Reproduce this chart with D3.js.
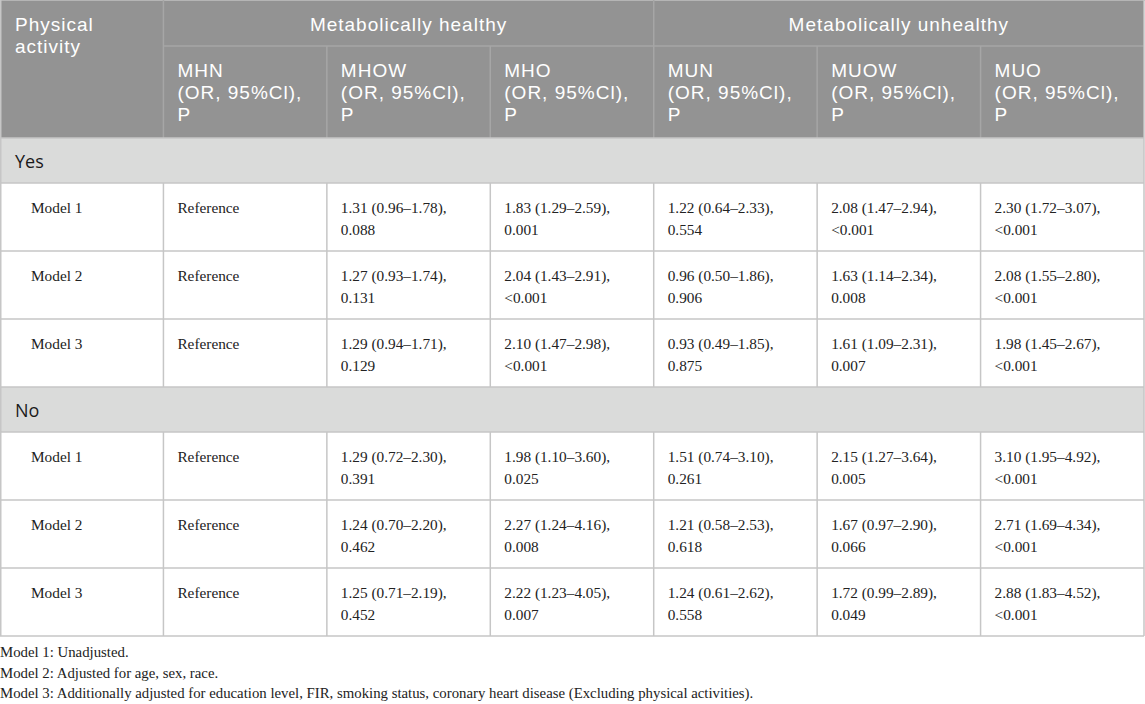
<!DOCTYPE html>
<html>
<head>
<meta charset="utf-8">
<script src="https://cdn.jsdelivr.net/npm/d3@7"></script>
<style>
  html, body { margin: 0; padding: 0; background: #fff; }
  svg { display: block; }
</style>
</head>
<body>
<svg id="chart" width="1145" height="704"></svg>
<script>
// ---- data ----
const firstHeader = ["Physical", "activity"];
const groups = ["Metabolically healthy", "Metabolically unhealthy"];
const columns = ["MHN", "MHOW", "MHO", "MUN", "MUOW", "MUO"];
const subLabel = ["(OR, 95%Cl),", "P"];
const sections = ["Yes", "No"];
const models = ["Model 1", "Model 2", "Model 3"];
const referenceLabel = "Reference";

// OR, CI low, CI high, P for columns MHOW, MHO, MUN, MUOW, MUO
const yesOR  = [[1.31, 1.83, 1.22, 2.08, 2.30], [1.27, 2.04, 0.96, 1.63, 2.08], [1.29, 2.10, 0.93, 1.61, 1.98]];
const yesLo  = [[0.96, 1.29, 0.64, 1.47, 1.72], [0.93, 1.43, 0.50, 1.14, 1.55], [0.94, 1.47, 0.49, 1.09, 1.45]];
const yesHi  = [[1.78, 2.59, 2.33, 2.94, 3.07], [1.74, 2.91, 1.86, 2.34, 2.80], [1.71, 2.98, 1.85, 2.31, 2.67]];
const yesP   = [["0.088", "0.001", "0.554", "<0.001", "<0.001"], ["0.131", "<0.001", "0.906", "0.008", "<0.001"], ["0.129", "<0.001", "0.875", "0.007", "<0.001"]];
const noOR   = [[1.29, 1.98, 1.51, 2.15, 3.10], [1.24, 2.27, 1.21, 1.67, 2.71], [1.25, 2.22, 1.24, 1.72, 2.88]];
const noLo   = [[0.72, 1.10, 0.74, 1.27, 1.95], [0.70, 1.24, 0.58, 0.97, 1.69], [0.71, 1.23, 0.61, 0.99, 1.83]];
const noHi   = [[2.30, 3.60, 3.10, 3.64, 4.92], [2.20, 4.16, 2.53, 2.90, 4.34], [2.19, 4.05, 2.62, 2.89, 4.52]];
const noP    = [["0.391", "0.025", "0.261", "0.005", "<0.001"], ["0.462", "0.008", "0.618", "0.066", "<0.001"], ["0.452", "0.007", "0.558", "0.049", "<0.001"]];
const footnotes = [
  "Model 1: Unadjusted.",
  "Model 2: Adjusted for age, sex, race.",
  "Model 3: Additionally adjusted for education level, FIR, smoking status, coronary heart disease (Excluding physical activities)."
];

// ---- layout ----
const svg = d3.select("#chart");
const W = 1144;
const colKeys = ["PA"].concat(columns);
const x = d3.scaleBand().domain(colKeys).range([0, W]).paddingInner(0).paddingOuter(0);
const cw = x.bandwidth();

const HSANS = "'Liberation Sans', Arial, sans-serif";
const SANS = "'Open Sans', Lato, sans-serif";
const SERIF = "'Liberation Serif', 'Times New Roman', serif";
const HEAD_BG = "#939393";
const SEC_BG = "#dadbda";
const LINE = "#c6c6c6";

const h1 = 46, h2 = 92, secH = 45, rowH = 68;
const blocks = [];
let yy = h1 + h2;
const sectionData = [
  {name: sections[0], or: yesOR, lo: yesLo, hi: yesHi, p: yesP},
  {name: sections[1], or: noOR, lo: noLo, hi: noHi, p: noP}
];
sectionData.forEach(s => {
  blocks.push({type: "sec", y: yy, h: secH, name: s.name});
  yy += secH;
  models.forEach((m, i) => {
    blocks.push({type: "row", y: yy, h: rowH, name: m, i, s});
    yy += rowH;
  });
});
const tableBottom = yy;

// multi-line cell text: one <text> per cell, one <tspan> per line
function cellText(parent, x0, y0, lines, lh) {
  const t = parent.append("text").attr("x", x0).attr("y", y0);
  lines.forEach((s, j) => t.append("tspan").attr("x", x0).attr("dy", j === 0 ? 0 : lh).text(s));
  return t;
}

// header background
svg.append("rect").attr("x", 0).attr("y", 0).attr("width", W).attr("height", h1 + h2).attr("fill", HEAD_BG);
svg.append("line").attr("x1", 0).attr("x2", W + 1).attr("y1", 0.5).attr("y2", 0.5).attr("stroke", "#b5b5b5").attr("stroke-width", 1);

// header lines
const hl = "#a6a6a6";
svg.append("line").attr("x1", x("MHN")).attr("x2", W).attr("y1", h1).attr("y2", h1).attr("stroke", hl).attr("stroke-width", 1.5);
svg.append("line").attr("x1", x("MHN")).attr("x2", x("MHN")).attr("y1", 0).attr("y2", h1 + h2).attr("stroke", hl).attr("stroke-width", 1.5);
svg.append("line").attr("x1", x("MUN")).attr("x2", x("MUN")).attr("y1", 0).attr("y2", h1 + h2).attr("stroke", hl).attr("stroke-width", 1.5);
columns.slice(1).forEach(c => {
  if (c === "MUN") return;
  svg.append("line").attr("x1", x(c)).attr("x2", x(c)).attr("y1", h1).attr("y2", h1 + h2).attr("stroke", hl).attr("stroke-width", 1.5);
});

// header text
const ht = svg.append("g").attr("font-family", HSANS).attr("fill", "#ffffff")
  .attr("font-size", 19).attr("letter-spacing", "1.0px");
cellText(ht, 15, 31, firstHeader, 22);
groups.forEach((g, i) => {
  const x0 = x(columns[i * 3]);
  const x1 = x(columns[i * 3 + 2]) + cw;
  ht.append("text").attr("x", (x0 + x1) / 2).attr("y", 31).attr("text-anchor", "middle").text(g);
});
columns.forEach(c => cellText(ht, x(c) + 14, 77, [c].concat(subLabel), 22));

// body
const fmt = d3.format(".2f");
blocks.forEach(b => {
  if (b.type === "sec") {
    svg.append("rect").attr("x", 0).attr("y", b.y).attr("width", W).attr("height", b.h).attr("fill", SEC_BG);
    svg.append("text").attr("x", 15).attr("y", b.y + 30).attr("font-family", SANS).attr("font-size", 18).attr("fill", "#1a1a1a").text(b.name);
  } else {
    const g = svg.append("g").attr("font-family", SERIF).attr("font-size", 15.3).attr("fill", "#222");
    g.append("text").attr("x", 31).attr("y", b.y + 30).text(b.name);
    g.append("text").attr("x", x("MHN") + 14).attr("y", b.y + 30).text(referenceLabel);
    columns.slice(1).forEach((c, k) => {
      const s = b.s;
      cellText(g, x(c) + 14, b.y + 30,
        [`${fmt(s.or[b.i][k])} (${fmt(s.lo[b.i][k])}\u2013${fmt(s.hi[b.i][k])}),`, s.p[b.i][k]], 22);
    });
  }
});

// body grid lines
blocks.forEach(b => {
  svg.append("line").attr("x1", 0).attr("x2", W).attr("y1", b.y).attr("y2", b.y).attr("stroke", LINE).attr("stroke-width", 1.5);
  if (b.type === "row") {
    colKeys.slice(1).forEach(c => {
      svg.append("line").attr("x1", x(c)).attr("x2", x(c)).attr("y1", b.y).attr("y2", b.y + b.h).attr("stroke", LINE).attr("stroke-width", 1.5);
    });
  }
});
svg.append("line").attr("x1", 0).attr("x2", W).attr("y1", tableBottom).attr("y2", tableBottom).attr("stroke", LINE).attr("stroke-width", 1.5);
svg.append("line").attr("x1", 0.75).attr("x2", 0.75).attr("y1", 0).attr("y2", tableBottom).attr("stroke", LINE).attr("stroke-width", 1.5);
svg.append("line").attr("x1", W).attr("x2", W).attr("y1", 0).attr("y2", tableBottom).attr("stroke", LINE).attr("stroke-width", 1.5);

// footnotes
const fn = svg.append("g").attr("font-family", SERIF).attr("font-size", 14.8).attr("fill", "#222");
cellText(fn, 0, 657, footnotes, 20.7);
</script>
</body>
</html>
